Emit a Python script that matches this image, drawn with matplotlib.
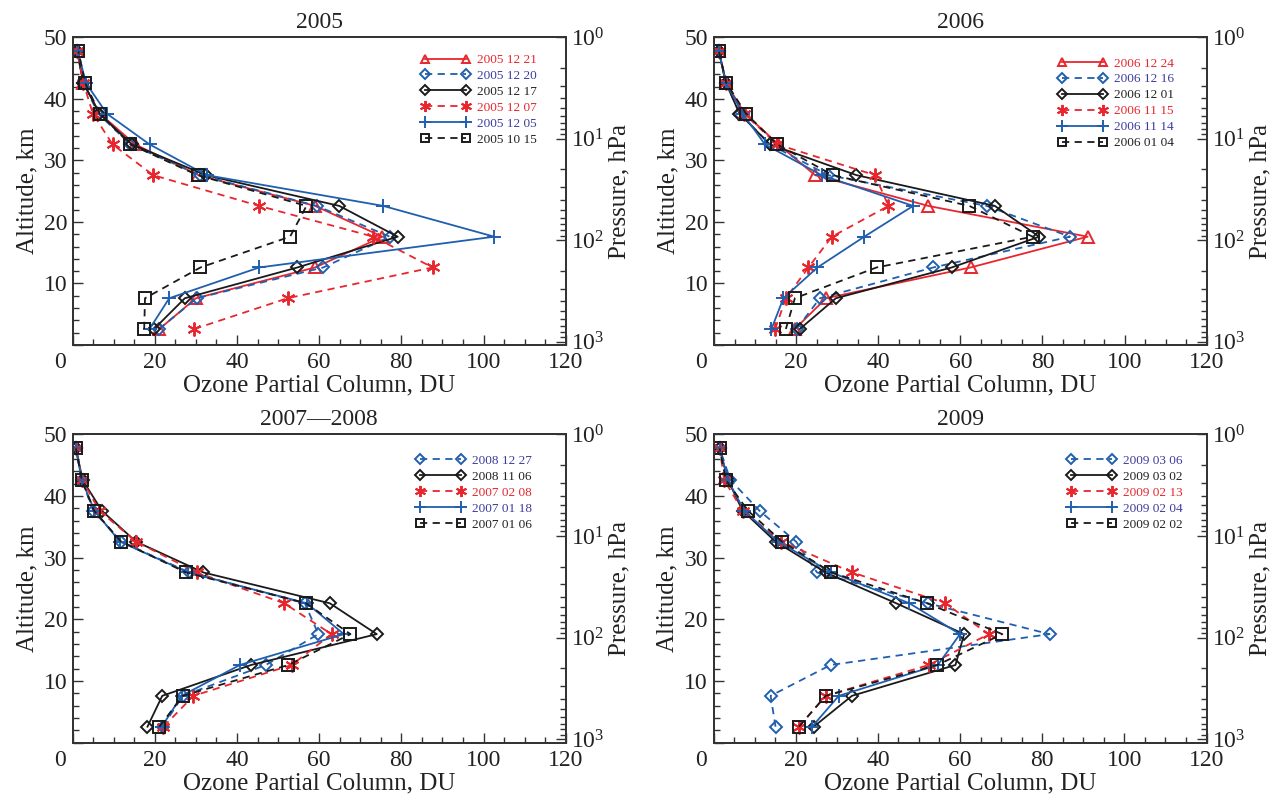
import matplotlib
matplotlib.use("Agg")
import matplotlib.pyplot as plt
from matplotlib.ticker import MultipleLocator, FixedLocator

plt.rcParams['font.family'] = ['Liberation Serif', 'DejaVu Serif']
plt.rcParams['mathtext.fontset'] = 'stix'

# ---------------- data ----------------
altitude = [2.6, 7.6, 12.6, 17.6, 22.6, 27.6, 32.6, 37.6, 42.6, 47.7]

titles = ["2005", "2006", "2007\u20142008", "2009"]

labels_2005 = ["2005 12 21", "2005 12 20", "2005 12 17", "2005 12 07", "2005 12 05", "2005 10 15"]
o3_2005_1221 = [21.1, 30.0, 59.0, 75.4, 59.0, 30.6, 15.2, 6.6, 2.6, 1.1]
o3_2005_1220 = [21.0, 30.2, 61.0, 77.2, 59.4, 31.0, 14.0, 6.2, 2.6, 1.1]
o3_2005_1217 = [19.8, 27.3, 54.7, 79.1, 64.9, 32.4, 14.4, 6.5, 2.6, 1.1]
o3_2005_1207 = [29.6, 52.3, 87.6, 73.2, 45.4, 19.6, 9.7, 4.9, 2.6, 1.1]
o3_2005_1205 = [18.7, 23.5, 45.4, 102.6, 75.6, 32.6, 18.7, 8.3, 3.2, 1.3]
o3_2005_1015 = [17.4, 17.6, 31.1, 52.9, 56.9, 30.4, 14.0, 6.6, 3.0, 1.4]

labels_2006 = ["2006 12 24", "2006 12 16", "2006 12 01", "2006 11 15", "2006 11 14", "2006 01 04"]
o3_2006_1224 = [19.7, 27.3, 62.5, 91.0, 52.2, 24.6, 15.7, 7.5, 2.9, 1.2]
o3_2006_1216 = [20.1, 25.8, 53.4, 86.7, 66.4, 27.8, 13.6, 6.3, 2.9, 1.2]
o3_2006_1201 = [20.9, 29.7, 57.9, 79.2, 68.4, 34.7, 13.6, 6.2, 2.9, 1.2]
o3_2006_1115 = [14.9, 17.5, 23.0, 28.7, 42.5, 39.2, 15.4, 7.3, 3.0, 1.2]
o3_2006_1114 = [14.0, 16.9, 25.2, 36.6, 48.5, 26.2, 12.4, 7.0, 2.9, 1.2]
o3_2006_0104 = [17.5, 19.7, 39.6, 77.6, 62.2, 28.9, 15.4, 7.8, 3.0, 1.2]

labels_2007 = ["2008 12 27", "2008 11 06", "2007 02 08", "2007 01 18", "2007 01 06"]
o3_2008_1227 = [21.9, 26.8, 47.0, 59.8, 56.5, 28.4, 11.8, 5.0, 2.2, 0.8]
o3_2008_1106 = [18.2, 21.8, 43.4, 74.0, 62.6, 31.8, 15.4, 7.1, 2.4, 0.8]
o3_2007_0208 = [22.1, 29.4, 53.3, 63.0, 51.5, 30.2, 15.4, 6.5, 2.3, 0.8]
o3_2007_0118 = [21.7, 26.5, 40.7, 66.0, 57.0, 28.1, 11.5, 5.3, 2.2, 0.8]
o3_2007_0106 = [21.1, 26.8, 52.5, 67.6, 56.8, 27.6, 11.8, 5.2, 2.2, 0.8]

labels_2009 = ["2009 03 06", "2009 03 02", "2009 02 13", "2009 02 04", "2009 02 02"]
o3_2009_0306 = [15.1, 13.9, 28.5, 81.8, 52.2, 25.2, 20.1, 11.2, 4.1, 1.5]
o3_2009_0302 = [24.4, 33.7, 58.9, 61.0, 44.5, 27.3, 15.1, 7.1, 3.5, 1.5]
o3_2009_0213 = [20.8, 27.3, 52.4, 67.0, 56.4, 33.8, 16.5, 7.1, 2.6, 1.5]
o3_2009_0204 = [24.0, 30.5, 54.6, 60.0, 47.7, 28.7, 15.7, 7.5, 3.5, 1.5]
o3_2009_0202 = [20.8, 27.3, 54.5, 70.3, 52.0, 28.7, 16.7, 8.4, 3.0, 1.5]

x_ticks = [0, 20, 40, 60, 80, 100, 120]
y_ticks = [0, 10, 20, 30, 40, 50]

# ---------------- styles ----------------
RED = '#e8262e'
BLUE = '#1f5fae'
BLACK = '#1a1a1a'
RED_T = '#e8262e'
BLUE_T = '#3c3c9e'
BLACK_T = '#222222'

STY = {
    'tri':   dict(color=RED, ls='-', marker='^', ms=8, text=RED_T),
    'dia_b': dict(color=BLUE, ls='--', marker='D', ms=6, text=BLUE_T),
    'dia_k': dict(color=BLACK, ls='-', marker='D', ms=6, text=BLACK_T),
    'star':  dict(color=RED, ls='--', marker=(6, 2, 0), ms=10, text=RED_T),
    'plus':  dict(color=BLUE, ls='-', marker='+', ms=10, text=BLUE_T),
    'sq':    dict(color=BLACK, ls='--', marker='s', ms=8, text=BLACK_T),
}

panels = [
    (titles[0], [(o3_2005_1221, 'tri'), (o3_2005_1220, 'dia_b'), (o3_2005_1217, 'dia_k'),
                 (o3_2005_1207, 'star'), (o3_2005_1205, 'plus'), (o3_2005_1015, 'sq')],
     labels_2005, (0.7065, 0.946)),
    (titles[1], [(o3_2006_1224, 'tri'), (o3_2006_1216, 'dia_b'), (o3_2006_1201, 'dia_k'),
                 (o3_2006_1115, 'star'), (o3_2006_1114, 'plus'), (o3_2006_0104, 'sq')],
     labels_2006, (0.699, 0.935)),
    (titles[2], [(o3_2008_1227, 'dia_b'), (o3_2008_1106, 'dia_k'), (o3_2007_0208, 'star'),
                 (o3_2007_0118, 'plus'), (o3_2007_0106, 'sq')],
     labels_2007, (0.696, 0.934)),
    (titles[3], [(o3_2009_0306, 'dia_b'), (o3_2009_0302, 'dia_k'), (o3_2009_0213, 'star'),
                 (o3_2009_0204, 'plus'), (o3_2009_0202, 'sq')],
     labels_2009, (0.717, 0.934)),
]

W, H = 1271, 795
fig = plt.figure(figsize=(W / 100, H / 100), dpi=100)

boxes = [
    (72.7, 37.3, 565.7, 345.0),
    (714.0, 37.3, 1206.7, 345.0),
    (72.7, 434.3, 565.7, 742.7),
    (713.5, 434.3, 1206.5, 742.7),
]

SPINE = '#333333'
TXT = '#222222'
TICK_FS = 17
LAB_FS = 18
for (title, series, labels, leg_xy), (x0, y0, x1, y1) in zip(panels, boxes):
    ax = fig.add_axes([x0 / W, 1 - y1 / H, (x1 - x0) / W, (y1 - y0) / H])
    handles = []
    for (vals, key), lab in zip(series, labels):
        s = STY[key]
        dashes = dict(dashes=(4, 3)) if s['ls'] == '--' else {}
        ln, = ax.plot(vals, altitude, color=s['color'], ls=s['ls'], lw=1.3,
                      marker=s['marker'], ms=s['ms'], mfc='none',
                      mec=s['color'], mew=1.4, label=lab, **dashes)
        handles.append(ln)
    ax.set_xlim(0, 120)
    ax.set_ylim(0, 50)
    ax.xaxis.set_major_locator(FixedLocator(x_ticks))
    ax.set_xticklabels([''] + [str(v) for v in x_ticks[1:]])
    ax.yaxis.set_major_locator(FixedLocator(y_ticks))
    ax.set_yticklabels([''] + [str(v) for v in y_ticks[1:]])
    ax.xaxis.set_minor_locator(MultipleLocator(5))
    ax.yaxis.set_minor_locator(MultipleLocator(2))
    ax.tick_params(which='both', direction='in', top=False, right=False,
                   labelsize=TICK_FS, colors=SPINE, labelcolor=TXT, width=1.0)
    ax.tick_params(which='major', length=7, pad=4)
    ax.tick_params(which='minor', length=4)
    ax.tick_params(axis='x', which='major', pad=5)
    for sp in ax.spines.values():
        sp.set_color(SPINE)
        sp.set_linewidth(1.3)
    ax.annotate('0', xy=(0, 0), xycoords='axes fraction', xytext=(-9.1, -12.5),
                textcoords='offset points', ha='center', va='center',
                fontsize=TICK_FS, color=TXT)
    ax.set_xlabel('Ozone Partial Column, DU', fontsize=LAB_FS, color=TXT, labelpad=1)
    ax.set_ylabel('Altitude, km', fontsize=LAB_FS, color=TXT, labelpad=4)
    ax.set_title(title, fontsize=TICK_FS, color=TXT, pad=7)

    ax2 = ax.twinx()
    ax2.set_yscale('log')
    ax2.set_ylim(1080, 1)
    ax2.tick_params(which='both', direction='in', colors=SPINE, labelcolor=TXT,
                    labelsize=TICK_FS, width=1.0, pad=4)
    ax2.tick_params(which='major', length=7)
    ax2.tick_params(which='minor', length=4)
    for sp in ax2.spines.values():
        sp.set_color(SPINE)
        sp.set_linewidth(1.3)
    ax2.set_ylabel('Pressure, hPa', fontsize=LAB_FS, color=TXT, labelpad=3)

    leg = ax.legend(handles=handles, loc='upper left', bbox_to_anchor=leg_xy,
                    frameon=False, fontsize=9.5, numpoints=2, handlelength=3.7,
                    handletextpad=0.55, labelspacing=0.28, borderpad=0, borderaxespad=0,
                    markerscale=0.8)
    for txt, (vals, key) in zip(leg.get_texts(), series):
        txt.set_color(STY[key]['text'])
    leg.set_zorder(5)

fig.savefig('out.png', dpi=100)
